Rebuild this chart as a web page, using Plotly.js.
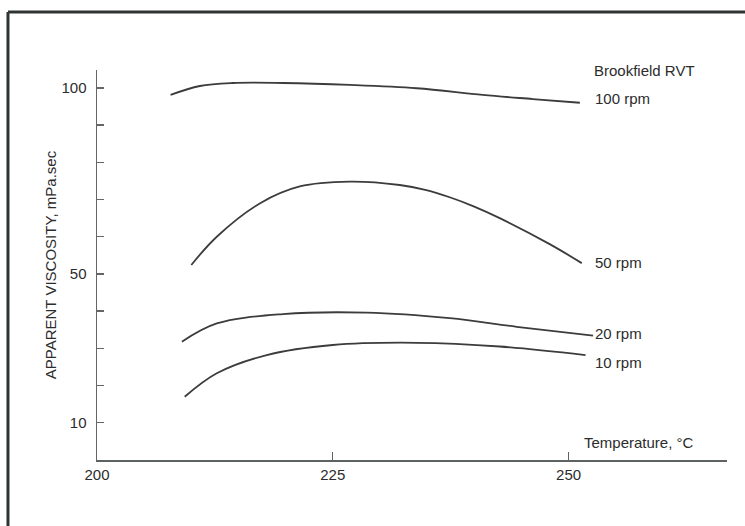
<!DOCTYPE html>
<html>
<head>
<meta charset="utf-8">
<script src="https://cdn.plot.ly/plotly-3.0.1.min.js"></script>
<style>
  html, body { margin: 0; padding: 0; background: #ffffff; }
  #chart { width: 745px; height: 526px; }
</style>
</head>
<body>
<div id="chart"></div>
<script>
// Temperature (°C) and apparent viscosity (mPa.sec)
var temp100 = [207.8, 210.9, 214.4, 219.7, 226.8, 233.9, 240.9, 246.2, 251.2];
var visc100 = [98.1, 100.5, 101.3, 101.3, 100.8, 99.9, 98.1, 97.0, 96.0];

var temp50 = [210.0, 212.7, 217.3, 221.5, 226.8, 232.1, 234.8, 237.4, 240.0, 242.7, 248.0, 251.4];
var visc50 = [52.4, 60.0, 69.0, 73.5, 74.8, 73.9, 72.6, 70.6, 68.1, 65.0, 58.0, 52.9];

var temp20 = [209.0, 212.7, 219.7, 228.6, 237.4, 244.5, 252.6];
var visc20 = [31.8, 36.7, 39.2, 39.6, 38.1, 35.8, 33.4];

var temp10 = [209.3, 212.7, 218.0, 225.0, 233.9, 242.7, 251.8];
var visc10 = [17.0, 23.3, 28.2, 30.9, 31.5, 30.5, 28.2];

var seriesNames = ["100 rpm", "50 rpm", "20 rpm", "10 rpm"];

var xTickVals = [200, 225, 250];
var xTickText = ["200", "225", "250"];
var yTickVals = [10, 20, 30, 40, 50, 60, 70, 80, 90, 100];
var yTickText = ["10", "", "", "", "50", "", "", "", "", "100"];

var legendTitle = "Brookfield RVT";
var xTitle = "Temperature, °C";
var yTitle = "APPARENT VISCOSITY, mPa.sec";

var FONT = "Liberation Sans, Arial, sans-serif";
var INK = "#2c2c2c";

var xs = [temp100, temp50, temp20, temp10];
var ys = [visc100, visc50, visc20, visc10];

var traces = xs.map(function (x, i) {
  return {
    type: "scatter",
    mode: "lines",
    x: x,
    y: ys[i],
    name: seriesNames[i],
    line: { color: "#3c3c3c", width: 1.8, shape: "spline", smoothing: 1 },
    hoverinfo: "skip"
  };
});

var labelY = [97.2, 53.2, 34.1, 26.3];
var annotations = seriesNames.map(function (n, i) {
  return {
    xref: "x", yref: "y", x: 252.6, y: labelY[i],
    xanchor: "left", yanchor: "middle",
    text: n, showarrow: false,
    font: { family: FONT, size: 15, color: INK }
  };
});
annotations.push({
  xref: "x", yref: "y", x: 252.5, y: 104.8,
  xanchor: "left", yanchor: "middle",
  text: legendTitle, showarrow: false,
  font: { family: FONT, size: 15, color: INK }
});
annotations.push({
  xref: "x", yref: "y", x: 251.4, y: 4.6,
  xanchor: "left", yanchor: "middle",
  text: xTitle, showarrow: false,
  font: { family: FONT, size: 15, color: INK }
});

var layout = {
  width: 745,
  height: 526,
  margin: { l: 97, r: 18, t: 70, b: 66, pad: 0 },
  paper_bgcolor: "#ffffff",
  plot_bgcolor: "#ffffff",
  showlegend: false,
  font: { family: FONT, size: 15, color: INK },
  xaxis: {
    range: [200, 266.8],
    showgrid: false,
    zeroline: false,
    showline: true,
    linecolor: "#5c6360",
    linewidth: 2,
    ticks: "inside",
    ticklen: 8,
    tickwidth: 1.3,
    tickcolor: "#5c6360",
    tickvals: xTickVals,
    ticktext: xTickText,
    tickfont: { family: FONT, size: 15, color: INK },
    ticklabelstandoff: 0,
    fixedrange: true
  },
  yaxis: {
    range: [0, 104.8],
    showgrid: false,
    zeroline: false,
    showline: true,
    linecolor: "#666666",
    linewidth: 1.5,
    ticks: "inside",
    ticklen: 7,
    tickwidth: 1.3,
    tickcolor: "#666666",
    tickvals: yTickVals,
    ticktext: yTickText,
    tickfont: { family: FONT, size: 15, color: INK },
    ticklabelstandoff: 6,
    title: { text: yTitle, font: { family: FONT, size: 15, color: INK }, standoff: 1 },
    fixedrange: true
  },
  shapes: [
    { type: "line", xref: "paper", yref: "paper", x0: -0.1413, x1: 1.06, y0: 1.1487, y1: 1.1487,
      line: { color: "#2f3531", width: 3 } },
    { type: "line", xref: "paper", yref: "paper", x0: -0.1413, x1: -0.1413, y0: 1.1487, y1: -0.2,
      line: { color: "#2f3531", width: 3 } }
  ],
  annotations: annotations
};

Plotly.newPlot("chart", traces, layout, { displayModeBar: false, staticPlot: true });
</script>
</body>
</html>
